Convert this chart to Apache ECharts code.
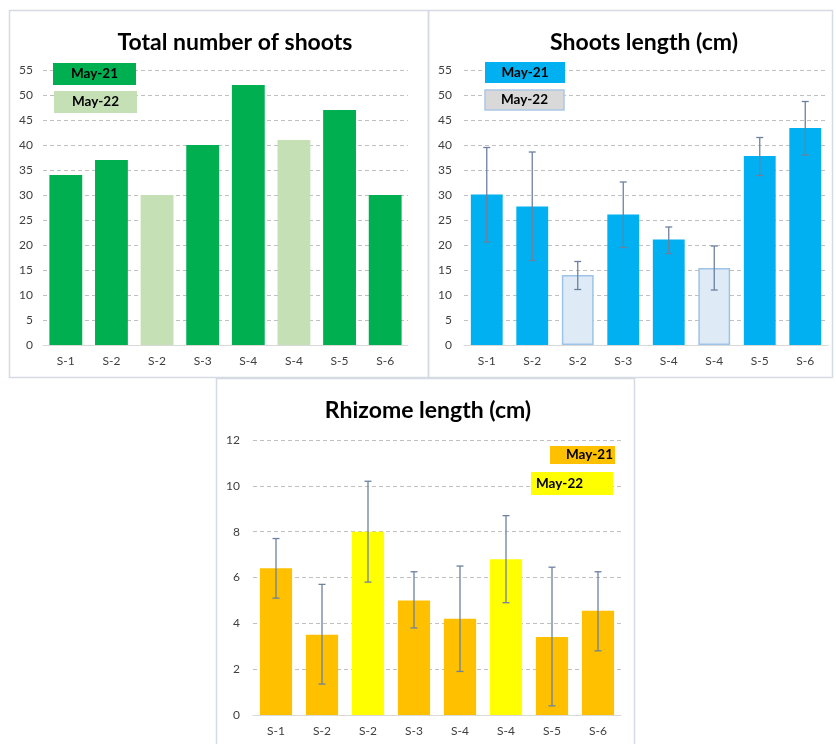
<!DOCTYPE html>
<html>
<head>
<meta charset="utf-8">
<title>Shoots and rhizome</title>
<script src="https://cdn.jsdelivr.net/npm/echarts@6/dist/echarts.min.js"></script>
<style>
  html, body { margin: 0; padding: 0; background: #fff; }
  #main { width: 836px; height: 744px; }
</style>
</head>
<body>
<div id="main"></div>
<script>
// sites along the x axis (S-2 and S-4 were sampled in both years)
var sites = ['S-1', 'S-2', 'S-2', 'S-3', 'S-4', 'S-4', 'S-5', 'S-6'];

// total number of shoots
var shootsMay21 = [34, 37, '-', 40, 52, '-', 47, 30];
var shootsMay22 = ['-', '-', 30, '-', '-', 41, '-', '-'];

// shoots length (cm), with error bar ends
var lengthMay21 = [30.1, 27.7, '-', 26.1, 21.1, '-', 37.8, 43.4];
var lengthMay22 = ['-', '-', 14.0, '-', '-', 15.4, '-', '-'];
var lengthLow  = [20.6, 16.9, 11.1, 19.5, 18.3, 11.0, 33.9, 38.0];
var lengthHigh = [39.5, 38.6, 16.7, 32.6, 23.6, 19.8, 41.5, 48.7];

// rhizome length (cm), with error bar ends
var rhizMay21 = [6.4, 3.5, '-', 5.0, 4.2, '-', 3.4, 4.55];
var rhizMay22 = ['-', '-', 8.0, '-', '-', 6.8, '-', '-'];
var rhizLow  = [5.1, 1.35, 5.8, 3.8, 1.9, 4.9, 0.4, 2.8];
var rhizHigh = [7.7, 5.7, 10.2, 6.25, 6.5, 8.7, 6.45, 6.25];

var font = 'Lato, "Open Sans", sans-serif';
var errColor = '#6d819e';

function errData(lo, hi) {
  return lo.map(function (v, i) { return [i, v, hi[i]]; });
}

function renderErr(params, api) {
  var i = api.value(0);
  var lo = api.coord([i, api.value(1)]);
  var hi = api.coord([i, api.value(2)]);
  var st = { stroke: errColor, lineWidth: 1.3 };
  return {
    type: 'group',
    children: [
      { type: 'line', shape: { x1: hi[0], y1: hi[1], x2: lo[0], y2: lo[1] }, style: st },
      { type: 'line', shape: { x1: hi[0] - 3.5, y1: hi[1], x2: hi[0] + 3.5, y2: hi[1] }, style: st },
      { type: 'line', shape: { x1: lo[0] - 3.5, y1: lo[1], x2: lo[0] + 3.5, y2: lo[1] }, style: st }
    ]
  };
}

function xAxis(idx) {
  return {
    type: 'category', gridIndex: idx, data: sites,
    axisTick: { show: false },
    axisLine: { lineStyle: { color: '#d9d9d9', width: 1 } },
    axisLabel: { color: '#404040', fontSize: 12, fontFamily: font, margin: 10 }
  };
}

function yAxis(idx, max, interval, margin) {
  return {
    type: 'value', gridIndex: idx, min: 0, max: max, interval: interval,
    axisLine: { show: false }, axisTick: { show: false },
    axisLabel: { color: '#404040', fontSize: 12, fontFamily: font, margin: margin },
    splitLine: { lineStyle: { color: '#c0c0c0', type: [4, 3], width: 1 } }
  };
}

function legendBox(x, y, w, h, fill, label, opts) {
  opts = opts || {};
  return [
    {
      type: 'rect', z: 100, shape: { x: x, y: y, width: w, height: h },
      style: { fill: fill, stroke: opts.stroke || null, lineWidth: opts.stroke ? 1.5 : 0 }
    },
    {
      type: 'text', z: 101,
      x: opts.align === 'right' ? x + w - 2 : (opts.align === 'left' ? x + 5 : x + w / 2),
      y: y + h / 2,
      style: {
        text: label, fill: '#000', font: 'bold 13.5px ' + font,
        align: opts.align || 'center', verticalAlign: 'middle'
      }
    }
  ];
}

var chart = echarts.init(document.getElementById('main'));

var graphics = [
  { type: 'rect', shape: { x: 9.5, y: 10.5, width: 419, height: 367 }, style: { fill: null, stroke: '#d6dae2', lineWidth: 1.5 } },
  { type: 'rect', shape: { x: 428.5, y: 10.5, width: 404, height: 367 }, style: { fill: null, stroke: '#d6dae2', lineWidth: 1.5 } },
  { type: 'rect', shape: { x: 216.5, y: 378.5, width: 418, height: 380 }, style: { fill: null, stroke: '#d6dae2', lineWidth: 1.5 } }
]
  .concat(legendBox(53, 63, 83, 22, '#00b050', 'May-21'))
  .concat(legendBox(54, 91, 83, 22, '#c5e0b4', 'May-22'))
  .concat(legendBox(485, 62, 80, 21, '#00b0f0', 'May-21'))
  .concat(legendBox(485, 90, 79, 20, '#d9d9d9', 'May-22', { stroke: '#a9c8e8' }))
  .concat(legendBox(550, 446, 65, 18, '#ffc000', 'May-21', { align: 'right' }))
  .concat(legendBox(531, 472, 82, 23, '#ffff00', 'May-22', { align: 'left' }));

var titleStyle = { fontFamily: font, fontSize: 23, fontWeight: 'bold', color: '#000' };

var option = {
  animation: false,
  backgroundColor: '#fff',
  title: [
    { text: 'Total number of shoots', left: 230, top: 26, textAlign: 'center', textStyle: titleStyle },
    { text: 'Shoots length (cm)', left: 639, top: 26, textAlign: 'center', textStyle: titleStyle },
    { text: 'Rhizome length (cm)', left: 423, top: 394, textAlign: 'center', textStyle: titleStyle }
  ],
  grid: [
    { left: 43, top: 70, width: 365, height: 275 },
    { left: 464, top: 70, width: 364, height: 275 },
    { left: 253, top: 440, width: 368, height: 275 }
  ],
  xAxis: [xAxis(0), xAxis(1), xAxis(2)],
  yAxis: [yAxis(0, 55, 5, 10), yAxis(1, 55, 5, 12), yAxis(2, 12, 2, 13)],
  graphic: graphics,
  series: [
    { name: 'May-21', type: 'bar', xAxisIndex: 0, yAxisIndex: 0, stack: 'a', barWidth: '72%',
      data: shootsMay21, itemStyle: { color: '#00b050' } },
    { name: 'May-22', type: 'bar', xAxisIndex: 0, yAxisIndex: 0, stack: 'a', barWidth: '72%',
      data: shootsMay22, itemStyle: { color: '#c5e0b4' } },

    { name: 'May-21', type: 'bar', xAxisIndex: 1, yAxisIndex: 1, stack: 'b', barWidth: '70%',
      data: lengthMay21, itemStyle: { color: '#00b0f0' } },
    { name: 'May-22', type: 'bar', xAxisIndex: 1, yAxisIndex: 1, stack: 'b', barWidth: '70%',
      data: lengthMay22, itemStyle: { color: '#deebf7', borderColor: '#9dc3e6', borderWidth: 1.5 } },
    { type: 'custom', xAxisIndex: 1, yAxisIndex: 1, renderItem: renderErr,
      data: errData(lengthLow, lengthHigh), z: 5 },

    { name: 'May-21', type: 'bar', xAxisIndex: 2, yAxisIndex: 2, stack: 'c', barWidth: '70%',
      data: rhizMay21, itemStyle: { color: '#ffc000' } },
    { name: 'May-22', type: 'bar', xAxisIndex: 2, yAxisIndex: 2, stack: 'c', barWidth: '70%',
      data: rhizMay22, itemStyle: { color: '#ffff00' } },
    { type: 'custom', xAxisIndex: 2, yAxisIndex: 2, renderItem: renderErr,
      data: errData(rhizLow, rhizHigh), z: 5 }
  ]
};

chart.setOption(option);
</script>
</body>
</html>
